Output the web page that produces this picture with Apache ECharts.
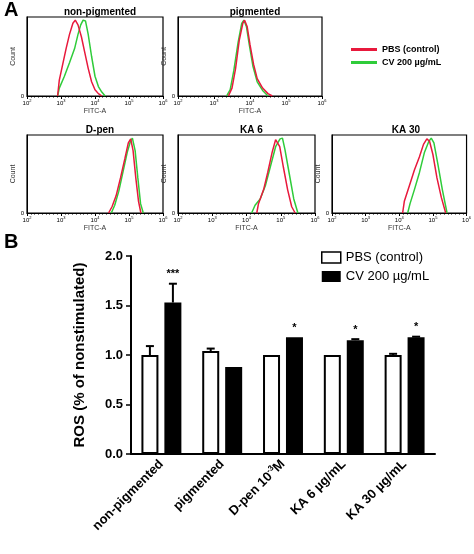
<!DOCTYPE html>
<html>
<head>
<meta charset="utf-8">
<script src="https://cdn.jsdelivr.net/npm/echarts@6/dist/echarts.min.js"></script>
<style>html,body{margin:0;background:#fff}#c{width:474px;height:554px}</style>
</head>
<body>
<div id="c"></div>
<script>
// 直方图数据 [log10(FITC-A), Count]
var npRed = [[2.9,0],[2.95,20],[3.05,40],[3.15,60],[3.25,78],[3.35,92],[3.42,96],[3.5,90],[3.6,75],[3.7,55],[3.8,35],[3.9,18],[4.0,8],[4.1,3],[4.2,0]]
var npGreen = [[2.9,0],[2.95,10],[3.1,25],[3.25,42],[3.4,60],[3.5,78],[3.58,90],[3.65,96],[3.72,95],[3.8,78],[3.9,50],[4.0,25],[4.1,12],[4.2,5],[4.3,0]]
var pigRed = [[3.4,0],[3.5,10],[3.6,35],[3.7,70],[3.8,92],[3.85,96],[3.92,88],[4.0,65],[4.1,40],[4.2,22],[4.35,10],[4.5,3],[4.62,0]]
var pigGreen = [[3.35,0],[3.45,8],[3.55,32],[3.67,68],[3.77,92],[3.83,96],[3.9,88],[3.98,65],[4.08,38],[4.2,18],[4.35,7],[4.5,0]]
var dpRed = [[4.4,0],[4.5,8],[4.62,22],[4.75,45],[4.88,70],[4.98,90],[5.05,95],[5.12,80],[5.2,45],[5.28,15],[5.35,0]]
var dpGreen = [[4.48,0],[4.58,10],[4.7,28],[4.82,52],[4.95,78],[5.05,93],[5.1,96],[5.18,80],[5.26,45],[5.34,12],[5.42,0]]
var ka6Red = [[4.3,0],[4.35,12],[4.5,30],[4.62,52],[4.75,78],[4.85,94],[4.9,95],[4.97,85],[5.08,58],[5.2,30],[5.32,8],[5.42,0]]
var ka6Green = [[4.15,0],[4.25,10],[4.4,18],[4.55,35],[4.7,60],[4.85,85],[4.98,95],[5.05,96],[5.12,82],[5.25,50],[5.38,18],[5.5,0]]
var ka30Red = [[4.1,0],[4.15,15],[4.3,35],[4.45,55],[4.6,72],[4.72,88],[4.82,95],[4.9,92],[5.0,75],[5.12,45],[5.25,20],[5.38,0]]
var ka30Green = [[4.25,0],[4.32,12],[4.45,30],[4.6,52],[4.75,78],[4.88,92],[4.95,96],[5.03,90],[5.15,62],[5.28,30],[5.42,0]]
var histTitles = ['non-pigmented','pigmented','D-pen','KA 6','KA 30']

// 柱状图数据
var categories = ['non-pigmented','pigmented','D-pen 10{s|-3}M','KA 6 µg/mL','KA 30 µg/mL']
var pbsValues = [1.0, 1.04, 1.0, 1.0, 1.0]
var pbsErr = [0.09, 0.025, 0, 0, 0.012]
var cvValues = [1.53, 0.88, 1.18, 1.15, 1.18]
var cvErr = [0.19, 0, 0, 0.01, 0.005]
var stars = ['***','','*','*','*']

var RED = '#e8193c', GREEN = '#2fcc3a'
var grids = [
  {left:27, top:17, width:136, height:79},
  {left:178, top:17, width:144, height:79},
  {left:27, top:135, width:136, height:78},
  {left:178, top:135, width:137, height:78},
  {left:332, top:135, width:138, height:78}
]
var curves = [[npRed,npGreen],[pigRed,pigGreen],[dpRed,dpGreen],[ka6Red,ka6Green],[ka30Red,ka30Green]]

var option = {
  animation: false,
  title: [],
  grid: [],
  xAxis: [],
  yAxis: [],
  series: [],
  legend: [
    {
      left: 346, top: 40, orient: 'vertical', itemWidth: 26, itemHeight: 3, itemGap: 4,
      icon: 'rect', selectedMode: false,
      textStyle: {fontSize: 9, fontWeight: 'bold', color: '#000', fontFamily: 'Arial'},
      data: [
        {name: 'PBS (control)', itemStyle: {color: RED, borderWidth: 0}},
        {name: 'CV 200 µg/mL', itemStyle: {color: GREEN, borderWidth: 0}}
      ]
    },
    {
      left: 316, top: 246, orient: 'vertical', itemWidth: 19, itemHeight: 11, itemGap: 6,
      icon: 'rect', selectedMode: false,
      textStyle: {fontSize: 13, color: '#000', fontFamily: 'Arial'},
      data: [
        {name: 'PBS (control)', itemStyle: {color: '#fff', borderColor: '#000', borderWidth: 1.5}},
        {name: 'CV 200 µg/mL', itemStyle: {color: '#000', borderWidth: 0}}
      ]
    }
  ],
  graphic: [
    {type: 'text', left: 4, top: 0, style: {text: 'A', font: 'bold 20px Arial', fill: '#000'}},
    {type: 'text', left: 4, top: 232, style: {text: 'B', font: 'bold 20px Arial', fill: '#000'}}
  ]
}

grids.forEach(function (g, i) {
  option.grid.push(Object.assign({show: true, borderColor: '#000', borderWidth: 1.2, backgroundColor: '#fff'}, g))
  option.title.push({
    text: histTitles[i], left: g.left + g.width / 2, top: g.top - 15, textAlign: 'center',
    textStyle: {fontSize: 10, fontWeight: 'bold', color: '#000', fontFamily: 'Arial'}
  })
  option.xAxis.push({
    type: 'value', gridIndex: i, min: 2, max: 6, interval: 1,
    name: 'FITC-A', nameLocation: 'middle', nameGap: 12,
    nameTextStyle: {fontSize: 7, color: '#333', fontFamily: 'Arial'},
    axisLine: {lineStyle: {color: '#000'}},
    axisTick: {length: 3, lineStyle: {color: '#000'}},
    minorTick: {show: true, splitNumber: 9, length: 1.5, lineStyle: {color: '#000'}},
    splitLine: {show: false},
    axisLabel: {
      margin: 3, formatter: function (v) { return '{b|10}{s|' + v + '}' },
      rich: {b: {fontSize: 6, color: '#000'}, s: {fontSize: 4, color: '#000', verticalAlign: 'top', padding: [0,0,4,0]}}
    }
  })
  option.yAxis.push({
    type: 'value', gridIndex: i, min: 0, max: 100, interval: 100,
    name: 'Count', nameLocation: 'middle', nameGap: 7, nameRotate: 90,
    nameTextStyle: {fontSize: 7, color: '#333', fontFamily: 'Arial'},
    axisLine: {show: true, lineStyle: {color: '#000'}},
    axisTick: {show: false}, splitLine: {show: false},
    axisLabel: {margin: 3, fontSize: 6, color: '#000', formatter: function (v) { return v === 0 ? '0' : '' }}
  })
  ;['PBS (control)','CV 200 µg/mL'].forEach(function (nm, k) {
    option.series.push({
      type: 'line', name: nm, xAxisIndex: i, yAxisIndex: i, data: curves[i][k],
      showSymbol: false, smooth: false, z: k === 0 ? 3 : 2,
      lineStyle: {color: k === 0 ? RED : GREEN, width: 1.5}, itemStyle: {color: k === 0 ? RED : GREEN}
    })
  })
})

// 柱状图
option.grid.push({left: 131, top: 256, width: 304, height: 198})
option.xAxis.push({
  type: 'category', gridIndex: 5, data: categories,
  axisLine: {lineStyle: {color: '#000', width: 2}},
  axisTick: {alignWithLabel: true, length: 5, lineStyle: {color: '#000', width: 1.5}},
  axisLabel: {
    interval: 0, rotate: 45, margin: 8, fontSize: 13, fontWeight: 'bold', color: '#000', fontFamily: 'Arial',
    rich: {s: {fontSize: 8, fontWeight: 'bold', verticalAlign: 'top', padding: [0,0,8,0]}}
  }
})
option.yAxis.push({
  type: 'value', gridIndex: 5, min: 0, max: 2, interval: 0.5,
  name: 'ROS (% of nonstimulated)', nameLocation: 'middle', nameGap: 44, nameRotate: 90,
  nameTextStyle: {fontSize: 15, fontWeight: 'bold', color: '#000', fontFamily: 'Arial'},
  axisLine: {show: true, lineStyle: {color: '#000', width: 2}},
  axisTick: {show: true, length: 5, lineStyle: {color: '#000', width: 1.5}},
  splitLine: {show: false},
  axisLabel: {fontSize: 13, fontWeight: 'bold', color: '#000', fontFamily: 'Arial', formatter: function (v) { return v.toFixed(1) }}
})
option.series.push(
  {type: 'bar', name: 'PBS (control)', xAxisIndex: 5, yAxisIndex: 5, data: pbsValues, barWidth: 17, barGap: '35%',
   itemStyle: {color: '#fff', borderColor: '#000', borderWidth: 2}},
  {type: 'bar', name: 'CV 200 µg/mL', xAxisIndex: 5, yAxisIndex: 5, data: cvValues, barWidth: 17,
   itemStyle: {color: '#000'}}
)
var errData = []
pbsValues.forEach(function (v, i) { errData.push([i, v, pbsErr[i], '', -11.5]) })
cvValues.forEach(function (v, i) { errData.push([i, v, cvErr[i], stars[i], 11.5]) })
option.series.push({
  type: 'custom', xAxisIndex: 5, yAxisIndex: 5, data: errData, z: 5,
  renderItem: function (params, api) {
    var base = api.coord([api.value(0), api.value(1)])
    var top = api.coord([api.value(0), api.value(1) + api.value(2)])
    var x = base[0] + api.value(4)
    var ch = []
    if (api.value(2) > 0) {
      ch.push({type: 'line', shape: {x1: x, y1: base[1], x2: x, y2: top[1]}, style: {stroke: '#000', lineWidth: 2}})
      ch.push({type: 'line', shape: {x1: x - 4, y1: top[1], x2: x + 4, y2: top[1]}, style: {stroke: '#000', lineWidth: 2}})
    }
    var st = api.value(3)
    if (st) {
      ch.push({type: 'text', x: x, y: top[1] - 4, style: {text: st, font: 'bold 11px Arial', fill: '#000', align: 'center', verticalAlign: 'bottom'}})
    }
    return {type: 'group', children: ch}
  }
})

var chart = echarts.init(document.getElementById('c'))
chart.setOption(option)
</script>
</body>
</html>
